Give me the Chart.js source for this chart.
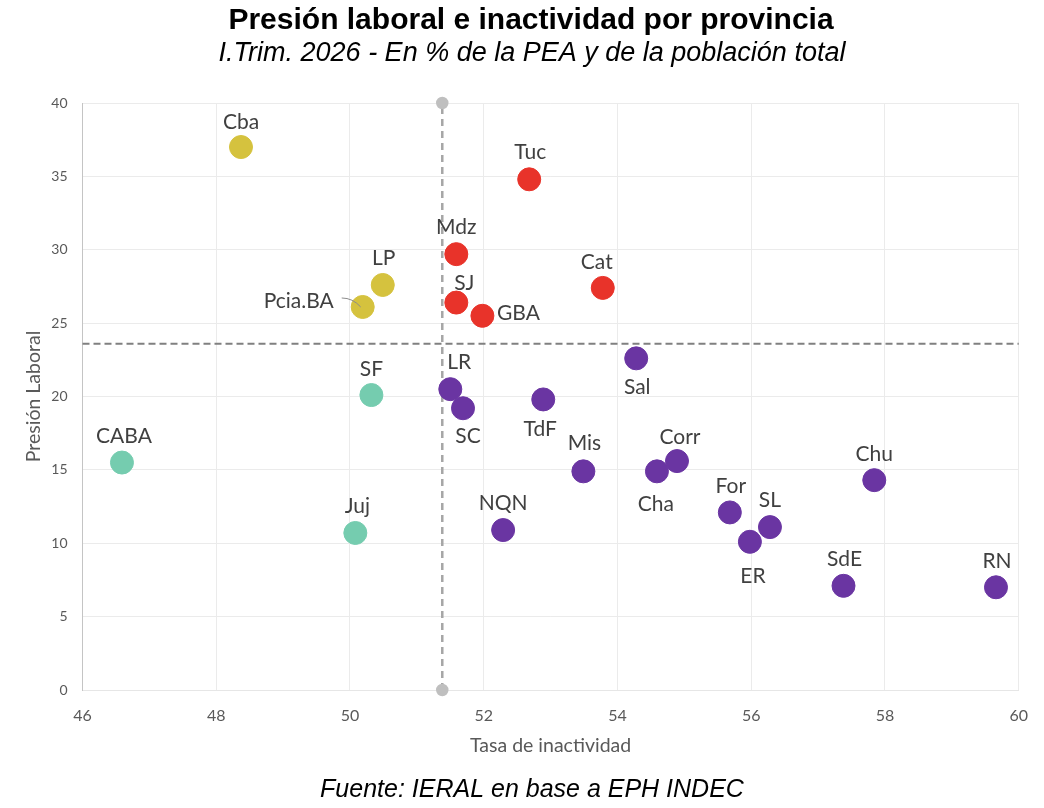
<!DOCTYPE html>
<html lang="es">
<head>
<meta charset="utf-8">
<title>Presión laboral e inactividad por provincia</title>
<script src="https://cdn.jsdelivr.net/npm/chart.js@4.4.1/dist/chart.umd.min.js"></script>
<style>
  html, body { margin: 0; padding: 0; background: #fff; }
  #wrap { position: relative; width: 1044px; height: 808px; }
</style>
</head>
<body>
<div id="wrap"><canvas id="scatter"></canvas></div>
<script>
// --- datos ---
const provincias = ['Cba', 'LP', 'Pcia.BA',
    'Tuc', 'Mdz', 'SJ', 'GBA', 'Cat',
    'SF', 'CABA', 'Juj',
    'LR', 'SC', 'TdF', 'Sal', 'Mis', 'Corr', 'Cha', 'For', 'SL', 'ER', 'Chu', 'SdE', 'RN', 'NQN'];
const inactividad = [48.37, 50.49, 50.19,
    52.68, 51.59, 51.59, 51.98, 53.78,
    50.32, 46.59, 50.08,
    51.50, 51.69, 52.89, 54.28, 53.49, 54.89, 54.59, 55.68, 56.28, 55.98, 57.84, 57.38, 59.66, 52.29];
const presionLaboral = [37.0, 27.6, 26.1,
    34.8, 29.7, 26.4, 25.5, 27.4,
    20.1, 15.5, 10.7,
    20.5, 19.2, 19.8, 22.6, 14.9, 15.6, 14.9, 12.1, 11.1, 10.1, 14.3, 7.1, 7.0, 10.9];
// grupo de color de cada provincia
const grupo = ['amarillo', 'amarillo', 'amarillo',
    'rojo', 'rojo', 'rojo', 'rojo', 'rojo',
    'verde', 'verde', 'verde',
    'violeta', 'violeta', 'violeta', 'violeta', 'violeta', 'violeta', 'violeta', 'violeta', 'violeta', 'violeta', 'violeta', 'violeta', 'violeta', 'violeta'];
const promedioInactividad = 51.38;
const promedioPresion = 23.6;

// --- estilo ---
const colores = { amarillo: '#D5C23E', rojo: '#E8332A', verde: '#75CCAF', violeta: '#6A35A2' };
// desplazamiento de cada etiqueta respecto del punto (px)
const etiquetaDesp = {
    'Cba': [0, -25], 'LP': [1, -27], 'Pcia.BA': [-64, -6],
    'Tuc': [1, -27], 'Mdz': [0, -27], 'SJ': [8, -19], 'GBA': [36, -3], 'Cat': [-6, -26],
    'SF': [0, -26], 'CABA': [2, -26], 'Juj': [2, -27],
    'LR': [9, -27], 'SC': [5, 28], 'TdF': [-3, 30], 'Sal': [1, 29], 'Mis': [1, -28],
    'Corr': [3, -24], 'Cha': [-1, 33], 'For': [1, -26], 'SL': [0, -27], 'ER': [3, 34],
    'Chu': [0, -26], 'SdE': [1, -27], 'RN': [1, -26], 'NQN': [0, -27]
};
const fuente = "Lato, 'Noto Sans', sans-serif";

// arma un dataset por grupo
const datasets = Object.keys(colores).map(g => {
    const idx = provincias.map((p, i) => i).filter(i => grupo[i] === g);
    return {
        label: g,
        data: idx.map(i => ({ x: inactividad[i], y: presionLaboral[i], nombre: provincias[i] })),
        backgroundColor: colores[g],
        borderColor: colores[g],
        borderWidth: 1,
        pointRadius: 11.5,
        order: 0
    };
});

// lineas de promedio
datasets.push({
    type: 'line',
    label: 'promX',
    data: [{ x: promedioInactividad, y: 0 }, { x: promedioInactividad, y: 40 }],
    borderColor: '#A6A6A6',
    borderWidth: 2.5,
    borderDash: [7, 5],
    pointRadius: 5,
    pointBackgroundColor: '#BFBFBF',
    pointBorderColor: '#BFBFBF',
    fill: false,
    clip: false,
    order: 1
});
datasets.push({
    type: 'line',
    label: 'promY',
    data: [{ x: 46, y: promedioPresion }, { x: 60, y: promedioPresion }],
    borderColor: '#808080',
    borderWidth: 2,
    borderDash: [7, 4],
    pointRadius: 0,
    fill: false,
    clip: false,
    order: 1
});

// etiquetas de provincias
const etiquetas = {
    id: 'etiquetas',
    afterDatasetsDraw(chart) {
        const ctx = chart.ctx;
        ctx.save();
        ctx.font = '21px ' + fuente;
        ctx.fillStyle = '#404040';
        ctx.textAlign = 'center';
        ctx.textBaseline = 'middle';
        chart.data.datasets.forEach((ds, di) => {
            if (ds.type === 'line') return;
            const meta = chart.getDatasetMeta(di);
            meta.data.forEach((pt, i) => {
                const nombre = ds.data[i].nombre;
                const d = etiquetaDesp[nombre] || [0, -26];
                if (nombre === 'Pcia.BA') {
                    ctx.strokeStyle = '#8c8c8c';
                    ctx.lineWidth = 1;
                    ctx.beginPath();
                    ctx.moveTo(pt.x - 21, pt.y - 9);
                    ctx.quadraticCurveTo(pt.x - 10, pt.y - 9, pt.x - 2, pt.y);
                    ctx.stroke();
                }
                ctx.fillText(nombre, pt.x + d[0], pt.y + d[1]);
            });
        });
        ctx.restore();
    }
};

// titulos y fuente
const textos = {
    id: 'textos',
    afterDraw(chart) {
        const ctx = chart.ctx;
        ctx.save();
        ctx.fillStyle = '#000';
        ctx.textAlign = 'center';
        ctx.textBaseline = 'alphabetic';
        ctx.font = "bold 30px 'Liberation Sans', Arial, sans-serif";
        ctx.fillText('Presión laboral e inactividad por provincia', 531, 29);
        ctx.font = "italic 27px 'Liberation Sans', Arial, sans-serif";
        ctx.fillText('I.Trim. 2026 - En % de la PEA y de la población total', 532, 61);
        ctx.font = "italic 25px 'Liberation Sans', Arial, sans-serif";
        ctx.fillText('Fuente: IERAL en base a EPH INDEC', 532, 797);
        ctx.restore();
    }
};

new Chart(document.getElementById('scatter'), {
    type: 'scatter',
    data: { datasets: datasets },
    options: {
        responsive: true,
        maintainAspectRatio: false,
        animation: false,
        layout: { padding: { top: 103, left: 12, right: 20, bottom: 47 } },
        scales: {
            x: {
                type: 'linear',
                min: 46,
                max: 60,
                ticks: { stepSize: 2, color: '#595959', font: { size: 16, family: fuente }, padding: 16 },
                grid: { color: '#EBEBEB', drawTicks: false },
                border: { color: '#E6E6E6' },
                title: { display: true, text: 'Tasa de inactividad', color: '#595959',
                    font: { size: 19.5, family: fuente }, padding: { top: 17 } },
                afterFit(scale) { scale.height = 71; }
            },
            y: {
                min: 0,
                max: 40,
                ticks: { stepSize: 5, color: '#595959', font: { size: 14, family: fuente }, padding: 15 },
                grid: { color: '#EBEBEB', drawTicks: false },
                border: { color: '#C4C4C4' },
                title: { display: true, text: 'Presión Laboral', color: '#595959',
                    font: { size: 19.5, family: fuente }, padding: { top: 10, bottom: 0 } },
                afterFit(scale) { scale.width = 70.5; }
            }
        },
        plugins: {
            legend: { display: false },
            tooltip: { enabled: false }
        }
    },
    plugins: [etiquetas, textos]
});
</script>
</body>
</html>
